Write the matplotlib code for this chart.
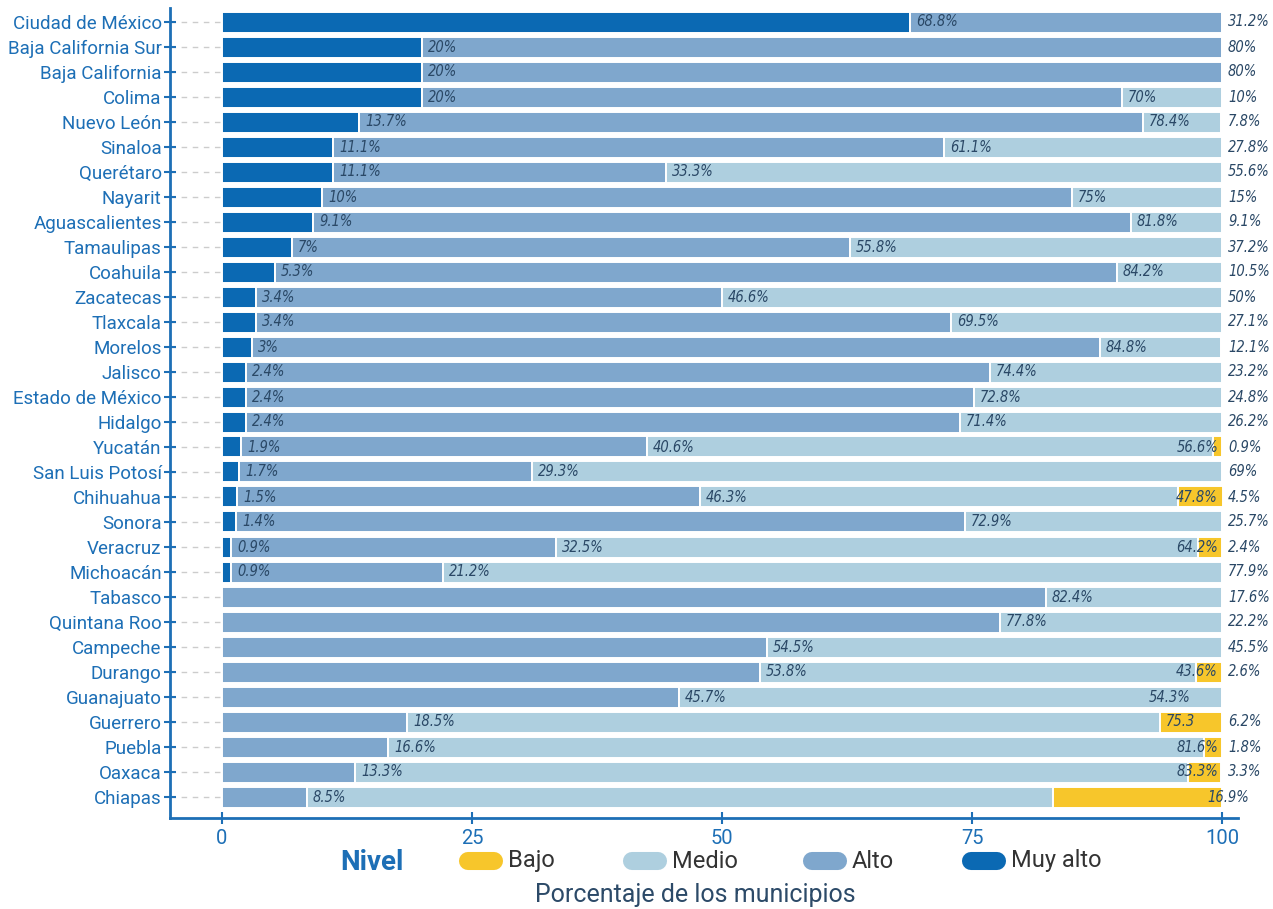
import matplotlib
matplotlib.use("Agg")
import matplotlib.pyplot as plt
from matplotlib.lines import Line2D
import numpy as np

# ── data ──────────────────────────────────────────────────────
states = [
    "Ciudad de México", "Baja California Sur", "Baja California", "Colima",
    "Nuevo León", "Sinaloa", "Querétaro", "Nayarit", "Aguascalientes",
    "Tamaulipas", "Coahuila", "Zacatecas", "Tlaxcala", "Morelos", "Jalisco",
    "Estado de México", "Hidalgo", "Yucatán", "San Luis Potosí", "Chihuahua",
    "Sonora", "Veracruz", "Michoacán", "Tabasco", "Quintana Roo", "Campeche",
    "Durango", "Guanajuato", "Guerrero", "Puebla", "Oaxaca", "Chiapas",
]
muy_alto = [68.8, 20, 20, 20, 13.7, 11.1, 11.1, 10, 9.1, 7, 5.3, 3.4, 3.4, 3,
            2.4, 2.4, 2.4, 1.9, 1.7, 1.5, 1.4, 0.9, 0.9, 0, 0, 0, 0, 0, 0, 0, 0, 0]
alto = [31.2, 80, 80, 70, 78.4, 61.1, 33.3, 75, 81.8, 55.8, 84.2, 46.6, 69.5,
        84.8, 74.4, 72.8, 71.4, 40.6, 29.3, 46.3, 72.9, 32.5, 21.2, 82.4, 77.8,
        54.5, 53.8, 45.7, 18.5, 16.6, 13.3, 8.5]
medio = [0, 0, 0, 10, 7.8, 27.8, 55.6, 15, 9.1, 37.2, 10.5, 50, 27.1, 12.1,
         23.2, 24.8, 26.2, 56.6, 69, 47.8, 25.7, 64.2, 77.9, 17.6, 22.2, 45.5,
         43.6, 54.3, 75.3, 81.6, 83.3, 74.6]
bajo = [0, 0, 0, 0, 0, 0, 0, 0, 0, 0, 0, 0, 0, 0, 0, 0, 0, 0.9, 0, 4.5, 0,
        2.4, 0, 0, 0, 0, 2.6, 0, 6.2, 1.8, 3.3, 16.9]

levels = ["Muy alto", "Alto", "Medio", "Bajo"]
series = [muy_alto, alto, medio, bajo]
legend_order = ["Bajo", "Medio", "Alto", "Muy alto"]

# quirks of the original labelling
text_override = {("Guerrero", "Medio"): "75.3", ("Chiapas", "Medio"): ""}
pos_override = {("Guanajuato", "Medio"): (96.8, "right"),
                ("Chiapas", "Bajo"): (98.5, "left")}

# ── style ─────────────────────────────────────────────────────
COLORS = {"Muy alto": "#0b69b3", "Alto": "#7fa7cd",
          "Medio": "#aecfdf", "Bajo": "#f7c62b"}
BLUE = "#1d6fb6"
LABEL = "#2a4866"
DARK = "#333333"
SANS = ["Roboto", "DejaVu Sans"]


def fmt(v):
    return f"{v:g}%"


fig = plt.figure(figsize=(12.73, 9.09), dpi=100, facecolor="white")
ax = fig.add_axes([170 / 1273, 91 / 909, 1068 / 1273, 810 / 909])

y = np.arange(len(states))
left = np.zeros(len(states))
for lvl, vals in zip(levels, series):
    vals = np.array(vals, dtype=float)
    ax.barh(y, vals, left=left, height=0.84, color=COLORS[lvl],
            edgecolor="white", linewidth=1.4, zorder=3)
    left += vals

# value labels
for i, st in enumerate(states):
    vals = [s[i] for s in series]
    last = max(k for k, v in enumerate(vals) if v > 0)
    cum = 0
    for k, (lvl, v) in enumerate(zip(levels, vals)):
        if v <= 0:
            continue
        cum += v
        txt = text_override.get((st, lvl), fmt(v))
        if (st, lvl) in pos_override:
            xp, ha = pos_override[(st, lvl)]
        elif k == last:
            xp, ha = 100.6, "left"
        elif cum > 95.5:
            xp, ha = 99.6, "right"
        else:
            xp, ha = cum + 0.6, "left"
        ax.text(xp, i, txt, ha=ha, va="center", fontsize=10.5, style="italic",
                fontstretch="condensed", color=LABEL, family="DejaVu Sans",
                zorder=5, clip_on=False)

# dashed guide from the axis to the bars
ax.hlines(y, -5.2, 0, colors="#cccccc", linestyles=(0, (4, 4)),
          linewidth=1, zorder=1)

ax.set_xlim(-5.2, 101.6)
ax.set_ylim(31.84, -0.56)
ax.set_yticks(y)
ax.set_yticklabels(states, fontsize=13.5, color=BLUE, family=SANS)
ax.set_xticks([0, 25, 50, 75, 100])
ax.set_xticklabels(["0", "25", "50", "75", "100"], fontsize=14.5,
                   color=BLUE, family=SANS)
ax.tick_params(axis="y", direction="inout", length=8, width=1.5,
               color=BLUE, pad=2)
ax.tick_params(axis="x", direction="inout", length=8, width=1.5,
               color=BLUE, pad=4)
for side in ["top", "right"]:
    ax.spines[side].set_visible(False)
for side in ["left", "bottom"]:
    ax.spines[side].set_color(BLUE)
    ax.spines[side].set_linewidth(2)

# legend
fig.text(372 / 1273, 1 - 862 / 909, "Nivel", fontsize=20, fontweight="bold",
         color=BLUE, family=SANS, ha="center", va="center")
leg_x = {"Bajo": 462, "Medio": 626, "Alto": 806, "Muy alto": 965}
for lvl in legend_order:
    x0 = leg_x[lvl]
    yy = 1 - 861 / 909
    fig.add_artist(Line2D([(x0 + 6) / 1273, (x0 + 32) / 1273], [yy, yy],
                          transform=fig.transFigure, lw=13,
                          solid_capstyle="round", color=COLORS[lvl]))
    fig.text((x0 + 46) / 1273, yy, lvl, fontsize=17, color=DARK,
             family=SANS, ha="left", va="center")

fig.text(695 / 1273, 1 - 895 / 909, "Porcentaje de los municipios",
         fontsize=18, color="#2c4a68", family=SANS, ha="center",
         va="center")

fig.savefig("out.png", dpi=100, facecolor="white")
